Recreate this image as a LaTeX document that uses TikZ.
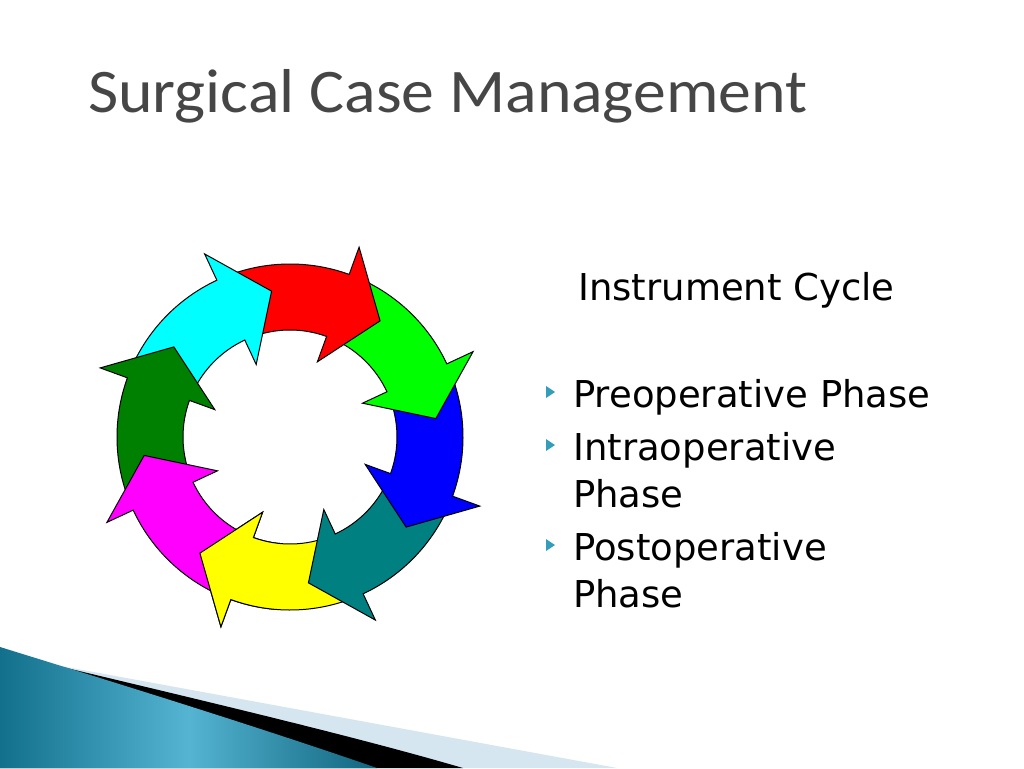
\documentclass[tikz,border=0pt]{standalone}
\usepackage{fontspec}
\setmainfont{DejaVu Sans}
\newfontfamily\titlefont[FakeStretch=1.06]{Carlito}
\definecolor{titlegray}{RGB}{70,70,70}
\definecolor{bullteal}{RGB}{52,158,186}
\definecolor{lightband}{RGB}{214,230,240}
\definecolor{tealdark}{RGB}{18,112,140}
\definecolor{teallight}{RGB}{84,180,210}
\definecolor{cRed}{RGB}{255,0,0}
\definecolor{cGreen}{RGB}{0,255,0}
\definecolor{cBlue}{RGB}{0,0,255}
\definecolor{cTeal}{RGB}{0,128,128}
\definecolor{cYellow}{RGB}{255,255,0}
\definecolor{cMagenta}{RGB}{255,0,255}
\definecolor{cDkGreen}{RGB}{0,128,0}
\definecolor{cCyan}{RGB}{0,255,255}
\tikzset{
  body/.style={anchor=base west, inner sep=0pt, font=\fontsize{37}{37}\selectfont, text=black},
  bullet/.style={fill=bullteal, draw=none},
  cyclearrow/.style={draw=black, line width=1pt, line join=miter},
}
\newcommand{\cyclearrowpath}[1]{%
  (#1+42:173) arc[start angle=#1+42, end angle=#1, radius=173]
  -- (#1:202) -- (#1-17.8:147) -- (#1:80) -- (#1:107)
  arc[start angle=#1, end angle=#1+42, radius=107] -- cycle}
\begin{document}
\begin{tikzpicture}[x=1pt,y=-1pt]
\useasboundingbox (0,0) rectangle (1024,768);
\fill[white] (0,0) rectangle (1024,768);

% bottom-left decoration
\fill[lightband] (50,664) -- (617,768) -- (0,768) -- cycle;
\fill[black] (50,664) .. controls (200,700) and (350,735) .. (463,768) -- (0,768) -- cycle;
\shade[left color=tealdark, right color=tealdark!90!black, middle color=teallight]
  (0,647) .. controls (100,678) and (250,724) .. (377,768) -- (0,768) -- cycle;

% title
\node[anchor=base west, inner sep=0pt, font=\titlefont\fontsize{62}{62}\selectfont, text=titlegray] (title) at (88,112) {Surgical Case Management};

% text
\node[body] (ic) at (578,300) {Instrument Cycle};
\node[body] (p1) at (573,407) {Preoperative Phase};
\node[body] (p2a) at (573,460) {Intraoperative};
\node[body] (p2b) at (573,507) {Phase};
\node[body] (p3a) at (573,560) {Postoperative};
\node[body] (p3b) at (573,607) {Phase};

\foreach \yb in {407,460,560}{
  \fill[bullet] (546,\yb-21) -- (555,\yb-15) -- (546,\yb-9) -- cycle;
}

% cycle of arrows
\begin{scope}[shift={(290,437)}, x=1pt, y=1pt]
\foreach \b/\c in {-110/cYellow, -65/cTeal, -20/cBlue, 25/cGreen, 70/cRed, 115/cCyan, 160/cDkGreen, -155/cMagenta}{
  \filldraw[cyclearrow, fill=\c] \cyclearrowpath{\b};
}
% yellow head over magenta tail
\begin{scope}
  \clip (0,0) -- (-95:320) arc[start angle=-95, end angle=-150, radius=320] -- cycle;
  \filldraw[cyclearrow, fill=cYellow] \cyclearrowpath{-110};
\end{scope}
\end{scope}
\end{tikzpicture}
\end{document}
